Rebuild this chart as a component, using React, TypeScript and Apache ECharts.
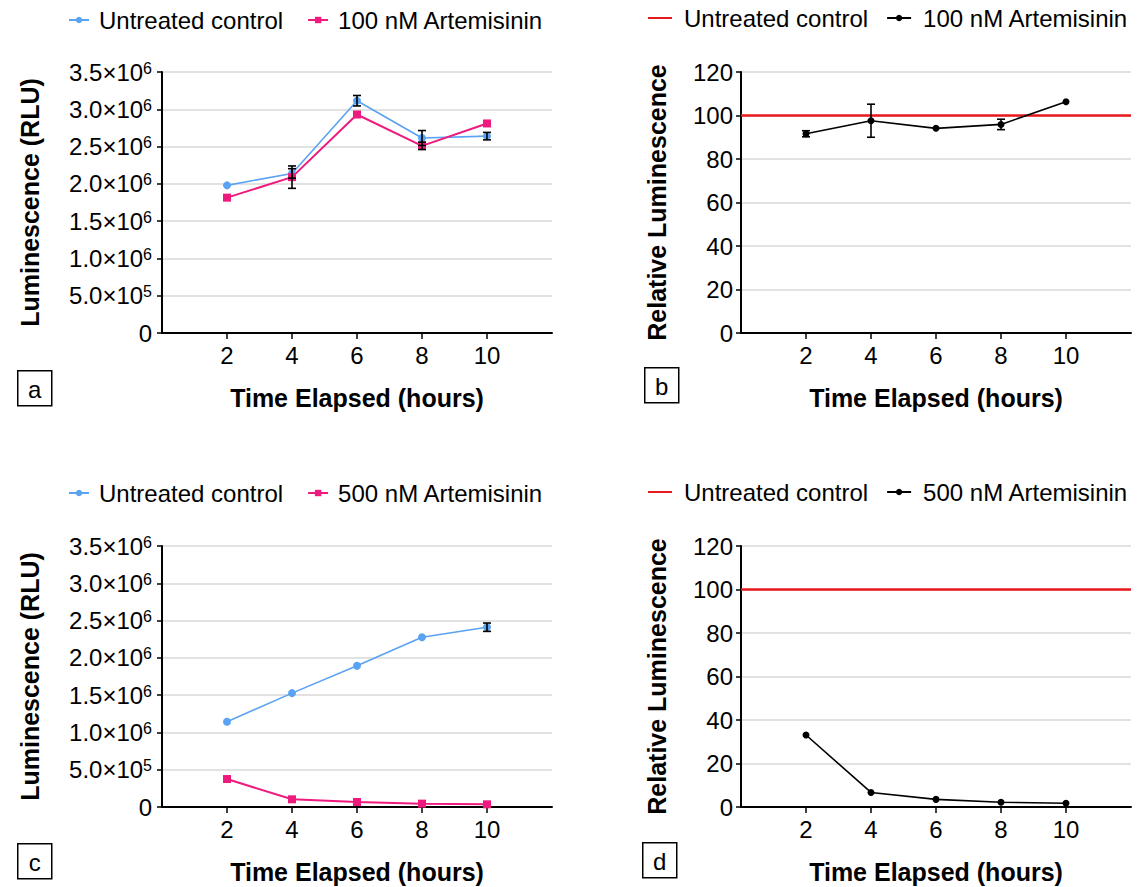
import React, { useEffect, useRef } from "react";
import * as echarts from "echarts";

const FONT = '"Liberation Sans", Arial, Helvetica, sans-serif';

// ---- data ----
const hours = [2, 4, 6, 8, 10];
const hourTicks = [2, 4, 6, 8, 10];

// panel a
const aControl = [1.98e6, 2.14e6, 3.115e6, 2.615e6, 2.64e6];
const aControlErr = [0, 0.063e6, 0.07e6, 0.1e6, 0.05e6];
const aTreated = [1.815e6, 2.09e6, 2.93e6, 2.51e6, 2.81e6];
const aTreatedErr = [0, 0.15e6, 0, 0.05e6, 0];
// panel b
const bRelative = [91.6, 97.6, 94.1, 95.9, 106.3];
const bRelativeErr = [1.4, 7.6, 0, 2.4, 0];
// panel c
const cControl = [1.143e6, 1.527e6, 1.893e6, 2.277e6, 2.411e6];
const cControlErr = [0, 0, 0, 0, 0.056e6];
const cTreated = [0.375e6, 0.103e6, 0.067e6, 0.045e6, 0.036e6];
// panel d
const dRelative = [33.1, 6.7, 3.5, 2.2, 1.7];

const controlLevel = 100;

const BLUE = "#5AA2F2";
const PINK = "#EE1A7E";
const RED = "#E8191D";
const BLACK = "#000000";
const GRID = "#D9D9D9";

const grids = [
  { left: 162, top: 72, width: 390, height: 261 },
  { left: 741, top: 72, width: 390, height: 261 },
  { left: 162, top: 546, width: 390, height: 261 },
  { left: 741, top: 546, width: 390, height: 261 },
];

function sciLabel(v: number): string {
  if (v === 0) return "{m|0}";
  const e = Math.floor(Math.log10(v) + 1e-9);
  const m = v / Math.pow(10, e);
  return `{m|${m.toFixed(1)}×10}{s|${e}}`;
}

function xAxis(i: number) {
  return {
    type: "value",
    gridIndex: i,
    min: 0,
    max: 12,
    interval: 2,
    name: "Time Elapsed (hours)",
    nameLocation: "middle",
    nameGap: 52,
    nameTextStyle: { fontFamily: FONT, fontSize: 25, fontWeight: "bold", color: BLACK },
    axisLine: { show: true, onZero: false, lineStyle: { color: BLACK, width: 2 } },
    axisTick: { show: true, customValues: hourTicks, length: 6, lineStyle: { color: BLACK, width: 1.5 } },
    axisLabel: {
      customValues: hourTicks,
      margin: 10,
      fontFamily: FONT,
      fontSize: 24,
      color: BLACK,
    },
    splitLine: { show: false },
  };
}

function yAxisLum(i: number) {
  return {
    type: "value",
    gridIndex: i,
    min: 0,
    max: 3.5e6,
    interval: 5e5,
    name: "Luminescence (RLU)",
    nameLocation: "middle",
    nameGap: 120,
    nameTextStyle: { fontFamily: FONT, fontSize: 25, fontWeight: "bold", color: BLACK },
    axisLine: { show: true, lineStyle: { color: BLACK, width: 2 } },
    axisTick: { show: true, length: 5, lineStyle: { color: BLACK, width: 1.5 } },
    axisLabel: {
      margin: 10,
      formatter: (v: number) => sciLabel(v),
      rich: {
        m: { fontFamily: FONT, fontSize: 24, color: BLACK },
        s: { fontFamily: FONT, fontSize: 16, color: BLACK, verticalAlign: "top", lineHeight: 16, padding: [0, 0, 10, 0] },
      },
    },
    splitLine: { show: true, lineStyle: { color: GRID, width: 1.5 } },
  };
}

function yAxisRel(i: number) {
  return {
    type: "value",
    gridIndex: i,
    min: 0,
    max: 120,
    interval: 20,
    name: "Relative Luminescence",
    nameLocation: "middle",
    nameGap: 72,
    nameTextStyle: { fontFamily: FONT, fontSize: 25, fontWeight: "bold", color: BLACK },
    axisLine: { show: true, lineStyle: { color: BLACK, width: 2 } },
    axisTick: { show: true, length: 5, lineStyle: { color: BLACK, width: 1.5 } },
    axisLabel: { margin: 8, fontFamily: FONT, fontSize: 24, color: BLACK },
    splitLine: { show: true, lineStyle: { color: GRID, width: 1.5 } },
  };
}

function lineSeries(name: string, i: number, values: number[], color: string, symbol: string, size: number, width: number) {
  return {
    type: "line",
    name,
    xAxisIndex: i,
    yAxisIndex: i,
    data: hours.map((h, k) => [h, values[k]]),
    symbol,
    symbolSize: size,
    showSymbol: true,
    itemStyle: { color },
    lineStyle: { color, width },
    z: 3,
  };
}

function refSeries(name: string, i: number) {
  return {
    type: "line",
    name,
    xAxisIndex: i,
    yAxisIndex: i,
    data: [
      [0, controlLevel],
      [12, controlLevel],
    ],
    symbol: "none",
    itemStyle: { color: RED },
    lineStyle: { color: RED, width: 2.5 },
    z: 2,
  };
}

function errSeries(name: string, i: number, values: number[], errs: number[]) {
  const data: number[][] = [];
  hours.forEach((h, k) => {
    if (errs[k] > 0) data.push([h, values[k] - errs[k], values[k] + errs[k]]);
  });
  return {
    type: "custom",
    name,
    xAxisIndex: i,
    yAxisIndex: i,
    silent: true,
    z: 6,
    encode: { x: 0, y: [1, 2] },
    data,
    renderItem: (_p: any, api: any) => {
      const x = api.value(0);
      const lo = api.coord([x, api.value(1)]);
      const hi = api.coord([x, api.value(2)]);
      const w = 4;
      const st = { stroke: BLACK, lineWidth: 1.6 };
      return {
        type: "group",
        children: [
          { type: "line", shape: { x1: lo[0], y1: lo[1], x2: hi[0], y2: hi[1] }, style: st },
          { type: "line", shape: { x1: lo[0] - w, y1: lo[1], x2: lo[0] + w, y2: lo[1] }, style: st },
          { type: "line", shape: { x1: hi[0] - w, y1: hi[1], x2: hi[0] + w, y2: hi[1] }, style: st },
        ],
      };
    },
  };
}

function legend(left: number, top: number, names: any[], itemWidth: number, gap: number, pad: number) {
  return {
    left,
    top,
    padding: 0,
    data: names,
    orient: "horizontal",
    itemWidth,
    itemHeight: 8,
    itemGap: gap,
    formatter: (n: string) => n.split("|")[1],
    textStyle: { fontFamily: FONT, fontSize: 24, color: BLACK, padding: [0, 0, 0, pad] },
  };
}

function labelBox(x: number, y: number, letter: string) {
  return {
    type: "group",
    left: x,
    top: y,
    children: [
      { type: "rect", shape: { x: 0, y: 0, width: 34, height: 35 }, style: { fill: "#fff", stroke: BLACK, lineWidth: 1.5 } },
      {
        type: "text",
        x: 17,
        y: 18.5,
        style: { text: letter, fontFamily: FONT, fontSize: 24, fill: BLACK, align: "center", verticalAlign: "middle" },
      },
    ],
  };
}

export default function App() {
  const ref = useRef<HTMLDivElement>(null);
  useEffect(() => {
    if (!ref.current) return;
    const chart = echarts.init(ref.current, null, { renderer: "svg" });
    chart.setOption({
      animation: false,
      backgroundColor: "#ffffff",
      grid: grids,
      xAxis: [xAxis(0), xAxis(1), xAxis(2), xAxis(3)],
      yAxis: [yAxisLum(0), yAxisRel(1), yAxisLum(2), yAxisRel(3)],
      legend: [
        legend(68, 8, ["a|Untreated control", "a|100 nM Artemisinin"], 20, 24, 5),
        legend(647, 6, [{ name: "b|Untreated control", itemStyle: { opacity: 0 } }, "b|100 nM Artemisinin"], 24, 18, 7),
        legend(68, 481, ["c|Untreated control", "c|500 nM Artemisinin"], 20, 24, 5),
        legend(647, 480, [{ name: "d|Untreated control", itemStyle: { opacity: 0 } }, "d|500 nM Artemisinin"], 24, 18, 7),
      ],
      series: [
        lineSeries("a|Untreated control", 0, aControl, BLUE, "circle", 8, 1.6),
        lineSeries("a|100 nM Artemisinin", 0, aTreated, PINK, "rect", 8, 2),
        errSeries("errA1", 0, aControl, aControlErr),
        errSeries("errA2", 0, aTreated, aTreatedErr),
        refSeries("b|Untreated control", 1),
        lineSeries("b|100 nM Artemisinin", 1, bRelative, BLACK, "circle", 7, 1.6),
        errSeries("errB", 1, bRelative, bRelativeErr),
        lineSeries("c|Untreated control", 2, cControl, BLUE, "circle", 8, 1.6),
        lineSeries("c|500 nM Artemisinin", 2, cTreated, PINK, "rect", 8, 2),
        errSeries("errC", 2, cControl, cControlErr),
        refSeries("d|Untreated control", 3),
        lineSeries("d|500 nM Artemisinin", 3, dRelative, BLACK, "circle", 7, 1.6),
      ],
      graphic: [
        labelBox(17, 370, "a"),
        labelBox(644, 367, "b"),
        labelBox(17, 843, "c"),
        labelBox(642, 842, "d"),
      ],
    });
    return () => chart.dispose();
  }, []);
  return (
    <div
      ref={ref}
      style={{ position: "fixed", left: 0, top: 0, width: 1139, height: 887, background: "#fff" }}
    />
  );
}
